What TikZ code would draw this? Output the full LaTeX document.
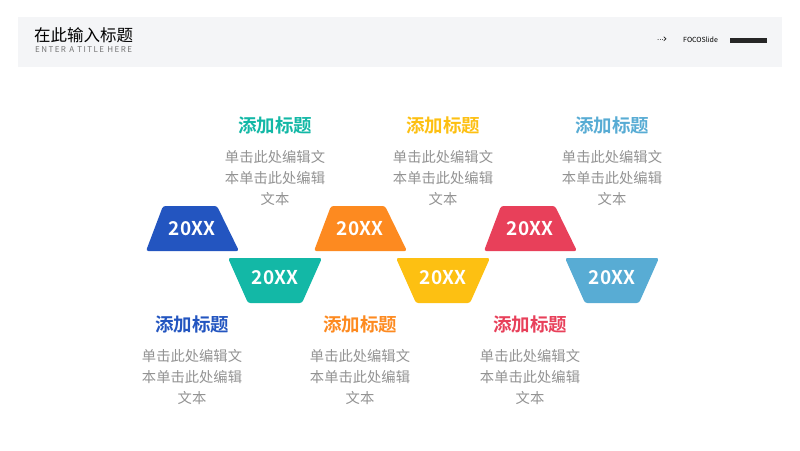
\documentclass[tikz,border=0pt]{standalone}
\usepackage{fontspec}
\setmainfont{Noto Sans CJK SC}
\newfontfamily\cjkb{Noto Sans CJK SC Bold}
\newfontfamily\spaced[LetterSpace=18]{Noto Sans CJK SC}
\begin{document}
\begin{tikzpicture}[x=1pt,y=-1pt,
  yr/.style={font=\fontsize{19}{19}\selectfont\cjkb, text=white},
  ttl/.style={font=\fontsize{18.5}{18.5}\selectfont\cjkb},
  body/.style={font=\fontsize{14.3}{21}\selectfont, text=gray!85, align=center}]
\definecolor{cblue}{HTML}{2355C0}\definecolor{cteal}{HTML}{13B8A6}
\definecolor{corange}{HTML}{FD8A20}\definecolor{cyellow}{HTML}{FDC012}
\definecolor{cred}{HTML}{E8405A}\definecolor{clblue}{HTML}{58ACD4}
\useasboundingbox (0,0) rectangle (800,450);
\fill[white] (0,0) rectangle (800,450);
\fill[color={rgb,255:red,244;green,245;blue,247}] (18,17) rectangle (782,67);
\node[anchor=west,font=\fontsize{16.5}{16.5}\selectfont,inner sep=0] (t) at (34,35) {在此输入标题};
\node[anchor=west,font=\fontsize{8}{8}\selectfont\spaced,inner sep=0,text=gray!90!black] (st) at (35,50) {ENTER A TITLE HERE};
\node[anchor=west,font=\fontsize{11}{11}\selectfont,inner sep=0] (ar) at (657,40) {\fontspec{DejaVu Sans}\fontsize{7}{7}\selectfont···\fontsize{11}{11}\selectfont\kern-1pt›};
\node[anchor=west,font=\fontsize{7}{7}\selectfont,inner sep=0] (fs) at (683,40) {FOCOSlide};
\fill[black!85] (730,38) rectangle (767,43);
\foreach \cx/\c/\n in {192/cblue/a,360/corange/b,530/cred/c}{
  \fill[\c,rounded corners=2.5pt] (\cx-46,251) -- (\cx-29,206) -- (\cx+25,206) -- (\cx+47,251) -- cycle;
  \node[yr] (y\n) at (\cx,229) {20XX};}
\foreach \cx/\c/\n in {275/cteal/d,443/cyellow/e,612/clblue/f}{
  \fill[\c,rounded corners=2.5pt] (\cx-47,258) -- (\cx+47,258) -- (\cx+27,303) -- (\cx-27,303) -- cycle;
  \node[yr] (y\n) at (\cx,278) {20XX};}
\foreach \cx/\c/\n in {275/cteal/d,443/cyellow/e,612/clblue/f}{
  \node[ttl,text=\c] (h\n) at (\cx,125) {添加标题};
  \node[body] (b\n) at (\cx,178) {单击此处编辑文\\本单击此处编辑\\文本};}
\foreach \cx/\c/\n in {192/cblue/a,360/corange/b,530/cred/c}{
  \node[ttl,text=\c] (h\n) at (\cx,324) {添加标题};
  \node[body] (b\n) at (\cx,377) {单击此处编辑文\\本单击此处编辑\\文本};}
\end{tikzpicture}
\end{document}
